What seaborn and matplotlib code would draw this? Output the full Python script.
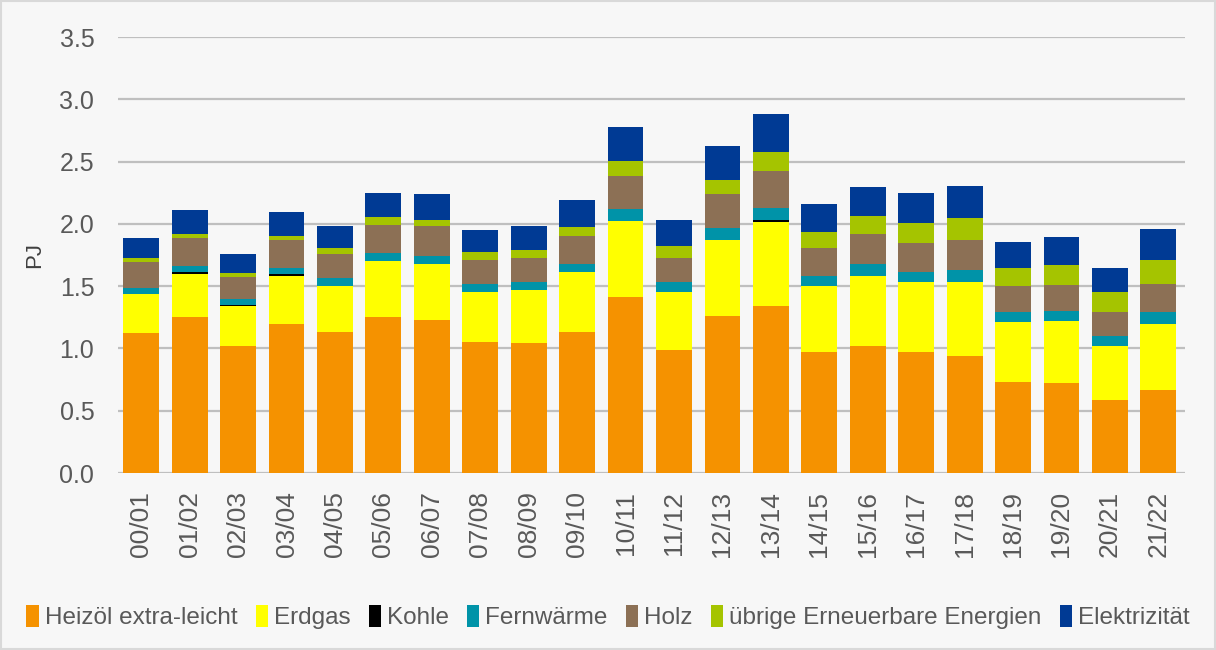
import numpy as np
import pandas as pd
import matplotlib
matplotlib.use("Agg")
import matplotlib.pyplot as plt
from matplotlib.patches import Patch, Rectangle
import seaborn as sns

# =====================================
# DATA (PJ per heating season)
# =====================================

years = ["00/01", "01/02", "02/03", "03/04", "04/05", "05/06", "06/07", "07/08",
         "08/09", "09/10", "10/11", "11/12", "12/13", "13/14", "14/15", "15/16",
         "16/17", "17/18", "18/19", "19/20", "20/21", "21/22"]

heizoel = [1.12, 1.25, 1.02, 1.20, 1.13, 1.25, 1.23, 1.05, 1.04, 1.13, 1.41,
           0.99, 1.26, 1.34, 0.97, 1.02, 0.97, 0.94, 0.73, 0.72, 0.59, 0.67]
erdgas = [0.32, 0.35, 0.32, 0.385, 0.37, 0.45, 0.45, 0.40, 0.43, 0.48, 0.61,
          0.465, 0.61, 0.674, 0.53, 0.56, 0.56, 0.594, 0.48, 0.50, 0.43, 0.53]
kohle = [0.0, 0.016, 0.005, 0.016, 0.0, 0.0, 0.0, 0.0, 0.0, 0.0, 0.004,
         0.0, 0.004, 0.016, 0.0, 0.0, 0.0, 0.0, 0.0, 0.0, 0.0, 0.0]
fernwaerme = [0.048, 0.048, 0.048, 0.048, 0.065, 0.064, 0.064, 0.064, 0.064, 0.064, 0.096,
              0.08, 0.096, 0.096, 0.08, 0.096, 0.08, 0.096, 0.08, 0.08, 0.08, 0.096]
holz = [0.21, 0.225, 0.177, 0.225, 0.19, 0.225, 0.24, 0.193, 0.193, 0.225, 0.268,
        0.193, 0.268, 0.30, 0.225, 0.24, 0.24, 0.24, 0.209, 0.209, 0.193, 0.225]
uebrige = [0.032, 0.032, 0.032, 0.032, 0.048, 0.064, 0.048, 0.064, 0.064, 0.08, 0.118,
           0.096, 0.118, 0.15, 0.128, 0.144, 0.16, 0.177, 0.144, 0.16, 0.16, 0.193]
elektrizitaet = [0.16, 0.19, 0.16, 0.19, 0.177, 0.193, 0.209, 0.177, 0.193, 0.209, 0.273,
                 0.209, 0.273, 0.305, 0.225, 0.24, 0.24, 0.257, 0.209, 0.225, 0.193, 0.241]

labels = ["Heizöl extra-leicht", "Erdgas", "Kohle", "Fernwärme", "Holz",
          "übrige Erneuerbare Energien", "Elektrizität"]
colors = ["#F59200", "#FFFF00", "#000000", "#0093A8", "#8C7055", "#A5C400", "#003A94"]

df = pd.DataFrame({
    "Jahr": years,
    labels[0]: heizoel,
    labels[1]: erdgas,
    labels[2]: kohle,
    labels[3]: fernwaerme,
    labels[4]: holz,
    labels[5]: uebrige,
    labels[6]: elektrizitaet,
})

# cumulative sums for stacking
cum = df[labels].cumsum(axis=1)

# =====================================
# PLOT
# =====================================

sns.set_theme(style="white")
plt.rcParams["font.family"] = ["Liberation Sans", "DejaVu Sans"]

bg = "#F7F7F7"
fig = plt.figure(figsize=(12.16, 6.5), dpi=100, facecolor=bg)
ax = fig.add_axes([0.097, 0.2723, 0.8775, 0.6707])
ax.set_facecolor(bg)

# draw from top layer down so each lower layer covers the one above it
for lab, col in reversed(list(zip(labels, colors))):
    sns.barplot(x=df["Jahr"], y=cum[lab], color=col, width=0.74,
                saturation=1, linewidth=0, ax=ax)

ax.set_ylim(0, 3.5)
ax.set_yticks(np.arange(0, 3.51, 0.5))
ax.set_yticklabels([f"{v:.1f}" for v in np.arange(0, 3.51, 0.5)])
ax.set_xlim(-0.48, 21.55)
ax.set_xlabel("")
ax.set_ylabel("PJ", fontsize=16, color="#404040", labelpad=10)

ax.grid(axis="y", color="#BFBFBF", linewidth=1.6)
ax.set_axisbelow(True)
for s in ["top", "right", "left", "bottom"]:
    ax.spines[s].set_visible(False)

ax.tick_params(axis="y", length=0, labelsize=18, labelcolor="#595959", pad=17)
ax.tick_params(axis="x", length=0, labelsize=19, labelcolor="#595959", pad=13,
               labelrotation=90)

# legend
handles = [Patch(facecolor=c, edgecolor="none") for c in colors]
fig.legend(handles, labels, loc="center", bbox_to_anchor=(0.5, 0.051), ncol=7,
           frameon=False, fontsize=17.5, handlelength=0.5, handleheight=1.0,
           handletextpad=0.25, columnspacing=0.75, labelcolor="#595959")

# figure border
fig.patches.append(Rectangle((0.001, 0.001), 0.998, 0.997, transform=fig.transFigure,
                             fill=False, edgecolor="#D9D9D9", linewidth=1.5))

plt.savefig("out.png", dpi=100, facecolor=bg)
